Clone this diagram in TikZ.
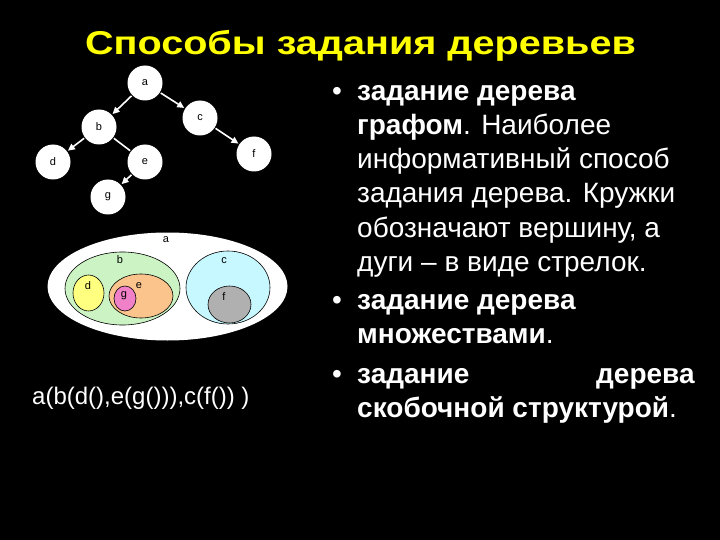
\documentclass[tikz,border=0pt]{standalone}
\usepackage{fontspec}
\setmainfont{Liberation Sans}
\usetikzlibrary{arrows.meta}
\tikzset{
  tnode/.style={circle, fill=white, draw=none, minimum size=35pt, inner sep=0pt, text=black, font=\fontsize{11}{13}\selectfont},
  tarrow/.style={draw=white, line width=1.6pt, -{Triangle[length=7pt,width=6.5pt]}, shorten >=1pt, shorten <=1pt},
  tline/.style={draw=white, line width=1.6pt, shorten >=1pt, shorten <=1pt},
  setlbl/.style={text=black, font=\fontsize{11}{13}\selectfont, inner sep=0pt},
  setell/.style={draw=black, line width=0.6pt},
  btxt/.style={anchor=base west, inner sep=0pt, text=white, font=\fontsize{28}{32}\selectfont},
  bul/.style={anchor=base west, inner sep=0pt, text=white, font=\fontsize{28}{32}\selectfont},
}
\begin{document}
\begin{tikzpicture}[x=1pt,y=-1pt]
\fill[black] (0,0) rectangle (720,540);
\useasboundingbox (0,0) rectangle (720,540);

% title
\node[anchor=base, inner sep=0pt, text={rgb,255:red,255;green,255;blue,0}, font=\fontsize{33}{38}\bfseries\selectfont] (title) at (360.5,55) {\scalebox{1.2}[1]{Способы задания деревьев}};

% tree graph
\node[tnode] (a) at (145,83) {a};
\node[tnode] (b) at (99,127) {b};
\node[tnode] (c) at (200,118) {c};
\node[tnode] (d) at (53,162) {d};
\node[tnode] (e) at (145,162) {e};
\node[tnode] (f) at (254,154) {f};
\node[tnode] (g) at (108,197) {g};
\draw[tarrow] (a) -- (b);
\draw[tarrow] (a) -- (c);
\draw[tarrow] (b) -- (d);
\draw[tline] (b) -- (e);
\draw[tarrow] (c) -- (f);
\draw[tarrow] (e) -- (g);

% sets
\fill[white] (167.5,286.5) ellipse [x radius=120pt, y radius=54pt];
\filldraw[setell, fill={rgb,255:red,204;green,243;blue,196}] (122.5,288.5) ellipse [x radius=57.5pt, y radius=36.5pt];
\filldraw[setell, fill={rgb,255:red,255;green,255;blue,128}] (88.5,293) ellipse [x radius=15.5pt, y radius=18pt];
\filldraw[setell, fill={rgb,255:red,250;green,196;blue,140}] (141,296) ellipse [x radius=32pt, y radius=22pt];
\filldraw[setell, fill={rgb,255:red,240;green,128;blue,200}] (125,298.5) ellipse [x radius=11pt, y radius=12.5pt];
\filldraw[setell, fill={rgb,255:red,200;green,248;blue,255}] (228,287.5) ellipse [x radius=42pt, y radius=36.5pt];
\filldraw[setell, fill={rgb,255:red,176;green,176;blue,176}] (229.5,304.5) ellipse [x radius=21.5pt, y radius=18.5pt];
\node[setlbl] (la) at (166,240) {a};
\node[setlbl] (lb) at (120,260) {b};
\node[setlbl] (lc) at (224,261) {c};
\node[setlbl] (ld) at (88,286) {d};
\node[setlbl] (le) at (139,286) {e};
\node[setlbl] (lg) at (124,296) {g};
\node[setlbl] (lf) at (224,297) {f};

% bracket notation
\node[anchor=base west, inner sep=0pt, text=white, font=\fontsize{24}{28}\selectfont] (brk) at (32,404) {a(b(d(),e(g())),c(f()) )};

% bullets
\node[bul] (b1) at (332,101) {•};
\node[btxt] (l1) at (357,101) {\textbf{задание дерева}};
\node[btxt] (l2) at (357,135) {\textbf{графом}. Наиболее};
\node[btxt] (l3) at (357,169) {информативный способ};
\node[btxt] (l4) at (357,203) {задания дерева. Кружки};
\node[btxt] (l5) at (357,237) {обозначают вершину, а};
\node[btxt] (l6) at (357,271) {дуги – в виде стрелок.};
\node[bul] (b2) at (332,309) {•};
\node[btxt] (l7) at (357,309) {\textbf{задание дерева}};
\node[btxt] (l8) at (357,343) {\textbf{множествами}.};
\node[bul] (b3) at (332,383) {•};
\node[btxt] (l9a) at (357,383) {\textbf{задание}};
\node[btxt, anchor=base east] (l9b) at (695,383) {\textbf{дерева}};
\node[btxt] (l10) at (357,417) {\textbf{скобочной структурой}.};
\end{tikzpicture}
\end{document}
